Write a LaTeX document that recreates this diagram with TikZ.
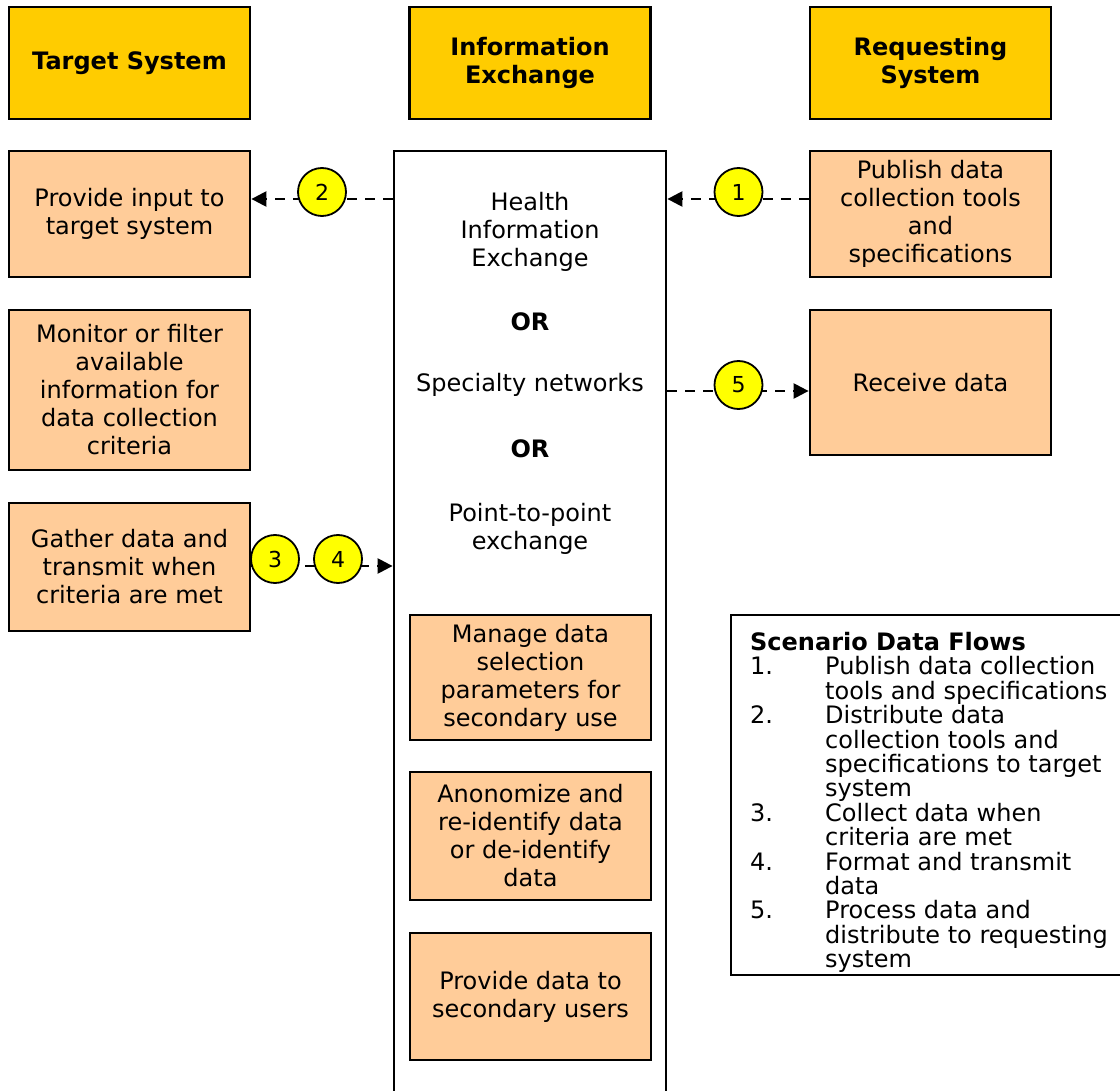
\documentclass[tikz,border=0pt]{standalone}
\usepackage{fontspec}
\setmainfont{DejaVu Sans}
\usetikzlibrary{arrows.meta}

\definecolor{hdrfill}{HTML}{FFCC00}
\definecolor{taskfill}{HTML}{FFCC99}
\definecolor{chipfill}{HTML}{FFFF00}

\tikzset{
  txt/.style={font=\fontsize{24}{28}\selectfont, align=center, inner sep=0pt},
  hdr/.style={txt, draw=black, line width=2.8pt, fill=hdrfill,
    font=\fontsize{24}{28}\selectfont\bfseries,
    minimum width=241pt, minimum height=112pt},
  task/.style={txt, draw=black, line width=2.8pt, fill=taskfill, minimum width=241pt},
  panel/.style={draw=black, line width=2.8pt, fill=white, inner sep=0pt},
  chip/.style={circle, draw=black, line width=1.8pt, fill=chipfill,
    minimum size=48pt, inner sep=0pt, font=\fontsize{22}{24}\selectfont},
  flow/.style={draw=black, line width=2.4pt, dash pattern=on 10pt off 8pt,
    -{Triangle[length=15pt,width=15pt]}},
}

\begin{document}
\begin{tikzpicture}[x=1pt, y=-1pt]
\useasboundingbox (0,0) rectangle (1120,1091);
\clip (0,0) rectangle (1120,1091);

% column headers
\node[hdr] (htarget) at (129.5,63) {Target System};
\node[hdr] (hexch) at (530,63) {Information\\Exchange};
\node[hdr] (hreq) at (930.5,63) {Requesting\\System};

% exchange column frame and its contents
\node[panel, minimum width=272pt, minimum height=969pt] (hie) at (530,635.5) {};
\node[txt] (hiename) at (530,232) {Health\\Information\\Exchange};
\node[txt, font=\fontsize{24}{28}\selectfont\bfseries] (or1) at (530,322) {OR};
\node[txt] (spec) at (530,385) {Specialty networks};
\node[txt, font=\fontsize{24}{28}\selectfont\bfseries] (or2) at (530,449) {OR};
\node[txt] (p2p) at (530,528.5) {Point-to-point\\exchange};

\node[task, minimum height=125pt] (manage) at (530.5,677.5)
  {Manage data\\selection\\parameters for\\secondary use};
\node[task, minimum height=128pt] (anon) at (530.5,836)
  {Anonomize and\\re-identify data\\or de-identify\\data};
\node[task, minimum height=127pt] (sec) at (530.5,996.5)
  {Provide data to\\secondary users};

% target system tasks
\node[task, minimum height=126pt] (prov) at (129.5,214) {Provide input to\\target system};
\node[task, minimum height=160pt] (mon) at (129.5,390)
  {Monitor or filter\\available\\information for\\data collection\\criteria};
\node[task, minimum height=128pt] (gath) at (129.5,567)
  {Gather data and\\transmit when\\criteria are met};

% requesting system tasks
\node[task, minimum height=126pt] (pub) at (930.5,214)
  {Publish data\\collection tools\\and\\specifications};
\node[task, minimum height=145pt] (recv) at (930.5,382.5) {Receive data};

% rows of the data flows
\coordinate (r1) at (0,199);
\coordinate (r2) at (0,199);
\coordinate (r34) at (0,566);
\coordinate (r5) at (0,391);

\draw[flow] (pub.west |- r1) -- (hie.east |- r1);
\draw[flow] (hie.west |- r2) -- (prov.east |- r2);
\draw[flow] (gath.east |- r34) -- (hie.west |- r34);
\draw[flow] (hie.east |- r5) -- (recv.west |- r5);

\node[chip] (c1) at (738.5,192) {1};
\node[chip] (c2) at (322,192) {2};
\node[chip] (c3) at (275,559) {3};
\node[chip] (c4) at (338,559) {4};
\node[chip] (c5) at (738.5,385) {5};

% legend
\node[panel, minimum width=409pt, minimum height=360pt] (legend) at (935.5,795) {};
\node[anchor=north west, inner sep=0pt, align=left,
      font=\fontsize{24}{24.4}\selectfont] (legtext) at (750,632)
  {\textbf{Scenario Data Flows}\\
   \makebox[75pt][l]{1.}Publish data collection\\
   \hspace*{75pt}tools and specifications\\
   \makebox[75pt][l]{2.}Distribute data\\
   \hspace*{75pt}collection tools and\\
   \hspace*{75pt}specifications to target\\
   \hspace*{75pt}system\\
   \makebox[75pt][l]{3.}Collect data when\\
   \hspace*{75pt}criteria are met\\
   \makebox[75pt][l]{4.}Format and transmit\\
   \hspace*{75pt}data\\
   \makebox[75pt][l]{5.}Process data and\\
   \hspace*{75pt}distribute to requesting\\
   \hspace*{75pt}system};
\end{tikzpicture}
\end{document}
